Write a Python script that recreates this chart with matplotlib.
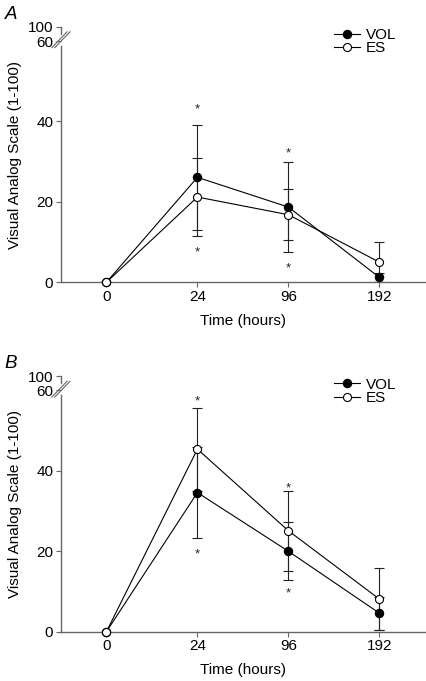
import numpy as np
import matplotlib
matplotlib.use('Agg')
import matplotlib.pyplot as plt

plt.rcParams['font.family'] = ['Liberation Sans', 'DejaVu Sans']

# time points (categorical, equally spaced)
times = ['0', '24', '96', '192']

# panel A
vol_a = [0, 26.1, 18.7, 1.2]
vol_a_err = [0, 13.0, 11.2, 1.2]
es_a = [0, 21.2, 16.8, 5.0]
es_a_err = [0, 9.7, 6.4, 5.0]
stars_a_x = [1, 1, 2, 2]
stars_a_y = [43.7, 8.2, 32.7, 4.1]

# panel B
vol_b = [0, 34.6, 20.0, 4.6]
vol_b_err = [0, 11.3, 7.2, 4.1]
es_b = [0, 45.4, 25.1, 8.1]
es_b_err = [0, 10.3, 9.9, 7.8]
stars_b_x = [1, 1, 2, 2]
stars_b_y = [58.0, 20.0, 36.2, 10.2]

# broken y axis: 100 is drawn just above 60
yticks = [0, 20, 40, 60, 63.5]
yticklabels = ['0', '20', '40', '60', '100']

fs = 11
axcol = '#666666'


def draw_panel(ax, vol, vol_err, es, es_err, sx, sy, letter):
	x = np.arange(len(times))
	ax.errorbar(x, vol, yerr=vol_err, fmt='none', ecolor='#222222', elinewidth=0.8, capsize=3.5, capthick=0.8, zorder=2)
	ax.errorbar(x, es, yerr=es_err, fmt='none', ecolor='#222222', elinewidth=0.8, capsize=3.5, capthick=0.8, zorder=2)
	ax.plot(x, vol, '-o', color='black', lw=0.8, ms=5.8, mfc='black', mec='black', label='VOL', zorder=3, clip_on=False)
	ax.plot(x, es, '-o', color='black', lw=0.8, ms=5.8, mfc='white', mec='black', mew=0.8, label='ES', zorder=4, clip_on=False)
	for i in range(len(sx)):
		ax.annotate('*', (sx[i], sy[i]), xytext=(0, -2), textcoords='offset points',
			ha='center', va='center', fontsize=9.5, color='#222222')

	ax.set_xlim(-0.5, 3.5)
	ax.set_ylim(0, 63.5)
	ax.set_xticks(x)
	ax.set_xticklabels(times, fontsize=fs)
	ax.set_yticks(yticks)
	ax.set_yticklabels(yticklabels, fontsize=fs)
	ax.tick_params(direction='out', length=3.5, width=0.8, color=axcol, pad=2)
	ax.set_xlabel('Time (hours)', fontsize=fs, labelpad=7)
	ax.set_ylabel('Visual Analog Scale (1-100)', fontsize=fs, labelpad=4)
	ax.spines['top'].set_visible(False)
	ax.spines['right'].set_visible(False)
	for s in ['left', 'bottom']:
		ax.spines[s].set_color(axcol)
		ax.spines[s].set_linewidth(1.0)
	ax.spines['left'].set_bounds(0, 58.8)
	# short piece of axis above the break
	ax.plot([-0.5, -0.5], [61.8, 63.5], color=axcol, lw=1.0, clip_on=False)
	# break marks
	dx = 0.021
	for off in [-0.004, 0.004]:
		ax.plot([-dx + off, dx + off], [0.95 - 0.031, 0.95 + 0.031], transform=ax.transAxes,
			color=axcol, lw=0.8, clip_on=False)
	ax.legend(loc='upper left', bbox_to_anchor=(0.75, 0.995), frameon=False, fontsize=fs,
		labelspacing=-0.05, handlelength=1.7, handletextpad=0.4, borderpad=0, borderaxespad=0)
	ax.text(-0.155, 1.05, letter, transform=ax.transAxes, fontsize=13.5, style='italic', ha='left', va='center')


fig = plt.figure(figsize=(4.26, 6.81), dpi=100)
ax1 = fig.add_axes([0.143, 0.5855, 0.8545, 0.3749])
ax2 = fig.add_axes([0.143, 0.0724, 0.8545, 0.3749])
draw_panel(ax1, vol_a, vol_a_err, es_a, es_a_err, stars_a_x, stars_a_y, 'A')
draw_panel(ax2, vol_b, vol_b_err, es_b, es_b_err, stars_b_x, stars_b_y, 'B')

fig.savefig('out.png', dpi=100)
